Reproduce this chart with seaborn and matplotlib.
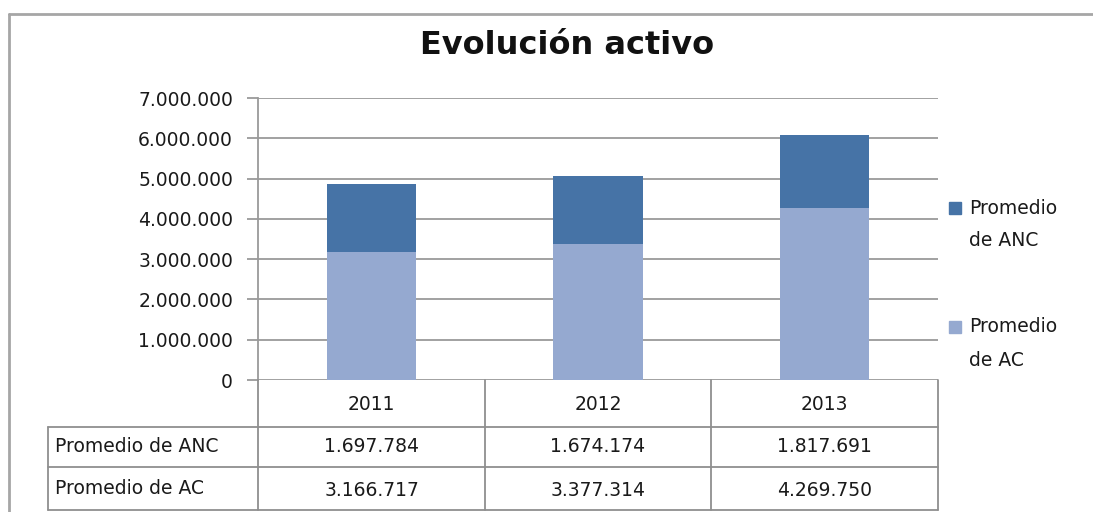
import matplotlib
matplotlib.use("Agg")
import matplotlib.pyplot as plt
import seaborn as sns
import pandas as pd
from matplotlib.lines import Line2D
from matplotlib.patches import Rectangle
from matplotlib.ticker import FuncFormatter

years = ["2011", "2012", "2013"]
anc = [1697784, 1674174, 1817691]
ac = [3166717, 3377314, 4269750]
series_names = ["Promedio de ANC", "Promedio de AC"]
title = "Evolución activo"

c_anc = "#4673A6"
c_ac = "#95A9D0"
grid_c = "#9a9a9a"
txt_c = "#1a1a1a"
FS = 13.5

sns.set_theme(style="white")
plt.rcParams['font.family'] = ['DejaVu Sans']

W, H = 1093, 512
fig = plt.figure(figsize=(W / 100, H / 100), dpi=100)

def fx(x): return x / W
def fy(y): return 1 - y / H

ax_l, ax_r, ax_t, ax_b = 258, 938, 98, 380
ax = fig.add_axes([fx(ax_l), fy(ax_b), (ax_r - ax_l) / W, (ax_b - ax_t) / H])

df = pd.DataFrame({"year": years, "ANC": anc, "AC": ac})
df["total"] = df["ANC"] + df["AC"]
sns.barplot(data=df, x="year", y="total", color=c_anc, width=0.395, ax=ax,
            saturation=1, edgecolor="none", zorder=3)
sns.barplot(data=df, x="year", y="AC", color=c_ac, width=0.395, ax=ax,
            saturation=1, edgecolor="none", zorder=3)

ax.set_ylim(0, 7000000)
ax.set_xlim(-0.5, 2.5)
ax.set_yticks(range(0, 7000001, 1000000))
ax.yaxis.set_major_formatter(FuncFormatter(lambda v, p: f"{int(v):,}".replace(",", ".")))
ax.set_xticks([])
ax.set_xlabel("")
ax.set_ylabel("")
ax.grid(axis="y", color=grid_c, linewidth=1.3, zorder=0)
for s in ["top", "right", "bottom"]:
    ax.spines[s].set_visible(False)
ax.spines["left"].set_color(grid_c)
ax.spines["left"].set_linewidth(1.3)
ax.tick_params(axis="y", left=True, length=8, width=1.3, color=grid_c,
               labelsize=FS, labelcolor=txt_c, pad=10)

# Title
fig.text(fx(567), fy(46), title, ha="center", va="center", fontsize=23,
         fontweight="bold", color="#111111")

# Outer border
lc = "#a6a6a6"
fig.add_artist(Line2D([fx(9), fx(9)], [fy(14), fy(512)], color=lc, lw=2))
fig.add_artist(Line2D([fx(9), fx(1093)], [fy(14), fy(14)], color=lc, lw=2))

# Data table
tc = "#8f8f8f"
col_x = [258, 485, 711, 938]
lw = 1.3
for x in col_x:
    fig.add_artist(Line2D([fx(x), fx(x)], [fy(380), fy(510)], color=tc, lw=lw))
fig.add_artist(Line2D([fx(48), fx(48)], [fy(427), fy(510)], color=tc, lw=lw))
for y in (427, 467, 510):
    fig.add_artist(Line2D([fx(48), fx(938)], [fy(y), fy(y)], color=tc, lw=lw))

def fmt(v): return f"{v:,}".replace(",", ".")

for i, yr in enumerate(years):
    cx = (col_x[i] + col_x[i + 1]) / 2
    fig.text(fx(cx), fy(404), yr, ha="center", va="center", fontsize=FS, color=txt_c)
    fig.text(fx(cx), fy(447), fmt(anc[i]), ha="center", va="center", fontsize=FS, color=txt_c)
    fig.text(fx(cx), fy(490), fmt(ac[i]), ha="center", va="center", fontsize=FS, color=txt_c)
fig.text(fx(55), fy(446), series_names[0], ha="left", va="center", fontsize=FS, color=txt_c)
fig.text(fx(55), fy(489), series_names[1], ha="left", va="center", fontsize=FS, color=txt_c)

# Legend
leg = [(series_names[0], c_anc, 208), (series_names[1], c_ac, 327)]
for name, col, y in leg:
    fig.add_artist(Rectangle((fx(949), fy(y + 6)), 12 / W, 12 / H, color=col,
                             transform=fig.transFigure))
    words = name.split(" ", 1)
    fig.text(fx(969), fy(y), words[0], ha="left", va="center", fontsize=FS, color=txt_c)
    fig.text(fx(969), fy(y + 33), words[1], ha="left", va="center", fontsize=FS, color=txt_c)

fig.savefig("out.png", dpi=100)
